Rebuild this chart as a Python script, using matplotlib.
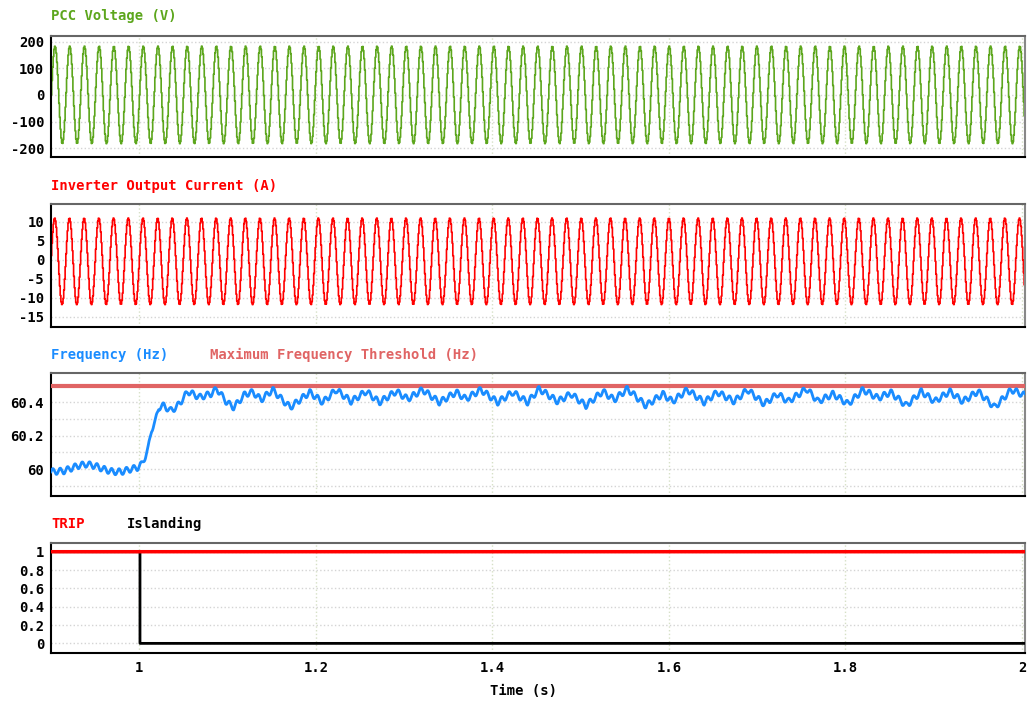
import numpy as np
import matplotlib
matplotlib.use('Agg')
import matplotlib.pyplot as plt

freq_t = [0.900, 0.915, 0.930, 0.940, 0.950, 0.960, 0.970, 0.980, 0.990, 0.998,
          1.003, 1.007, 1.010, 1.014, 1.018, 1.022, 1.028, 1.035, 1.042, 1.048,
          1.055, 1.068, 1.081, 1.088, 1.099, 1.107, 1.120, 1.129, 1.138, 1.151,
          1.162, 1.171, 1.193, 1.208, 1.223, 1.240, 1.257, 1.272, 1.291, 1.304,
          1.321, 1.340, 1.359, 1.370, 1.387, 1.406, 1.423, 1.440, 1.453, 1.474,
          1.489, 1.506, 1.525, 1.538, 1.553, 1.574, 1.593, 1.604, 1.621, 1.640,
          1.655, 1.674, 1.689, 1.708, 1.723, 1.735, 1.756, 1.769, 1.786, 1.803,
          1.820, 1.837, 1.851, 1.869, 1.886, 1.901, 1.918, 1.933, 1.950, 1.969,
          1.988, 2.004]
freq_hz = [59.985, 59.99, 60.02, 60.03, 60.02, 60.00, 59.985, 59.985, 60.00, 60.01,
           60.03, 60.08, 60.12, 60.24, 60.28, 60.37, 60.38, 60.35, 60.37, 60.41,
           60.465, 60.43, 60.45, 60.48, 60.40, 60.37, 60.45, 60.46, 60.415, 60.475,
           60.415, 60.37, 60.46, 60.40, 60.475, 60.405, 60.465, 60.40, 60.465, 60.42,
           60.475, 60.40, 60.46, 60.42, 60.475, 60.40, 60.46, 60.40, 60.48, 60.405,
           60.45, 60.38, 60.465, 60.415, 60.48, 60.38, 60.45, 60.405, 60.475, 60.40,
           60.46, 60.405, 60.475, 60.39, 60.45, 60.405, 60.48, 60.405, 60.45, 60.39,
           60.475, 60.425, 60.46, 60.38, 60.465, 60.405, 60.465, 60.405, 60.465, 60.37,
           60.475, 60.44]
ripple_hz = 0.018          # 120 Hz ripple seen on the frequency trace
f_threshold = 60.5
v_peak = 183.0
i_peak = 11.4
i_offset = -0.4
t_island = 1.0
trip_level = 1.0

green = '#5ca61c'
red = '#ff0000'
blue = '#1a8cff'
thr_red = '#e06464'

plt.rcParams['font.family'] = 'DejaVu Sans Mono'
plt.rcParams['font.weight'] = 'bold'
plt.rcParams['font.size'] = 10
plt.rcParams['axes.unicode_minus'] = False

# fine time base
tf = np.arange(0.9, 2.0035, 0.0001)
f_mean = np.interp(tf, freq_t, freq_hz)
f_meas = f_mean + ripple_hz * np.sin(2 * np.pi * 120 * tf)
phase = 2 * np.pi * np.concatenate([[0], np.cumsum(f_mean[:-1]) * 0.0001])

# sampled waveforms (staircase like the simulator output)
ts = tf[::8]
ph = phase[::8]
volt = v_peak * np.sin(ph)
curr = i_peak * np.sin(ph + 0.13) + i_offset

tripsig = np.full_like(ts, trip_level)
island = np.where(ts < t_island, 1.0, 0.0)

fig = plt.figure(figsize=(10.27, 7.02), dpi=100)
L, W = 51 / 1027, 974 / 1027
ax1 = fig.add_axes([L, 1 - 157 / 702, W, 121 / 702])
ax2 = fig.add_axes([L, 1 - 327 / 702, W, 123 / 702])
ax3 = fig.add_axes([L, 1 - 496 / 702, W, 123 / 702])
ax4 = fig.add_axes([L, 1 - 653 / 702, W, 110 / 702])

ax1.plot(ts, volt, color=green, lw=1.2, drawstyle='steps-post')
ax2.plot(ts, curr, color=red, lw=1.2, drawstyle='steps-post')
ax3.axhline(f_threshold, color=thr_red, lw=3, zorder=3)
ax3.plot(tf, f_meas, color=blue, lw=2, zorder=4)
ax4.plot(ts, island, color='black', lw=2, drawstyle='steps-post', zorder=3)
ax4.plot(ts, tripsig, color=red, lw=2.5, zorder=4)

ax1.set_ylim(-233, 221)
ax1.set_yticks([-200, -100, 0, 100, 200])
ax2.set_ylim(-17.7, 14.7)
ax2.set_yticks([-15, -10, -5, 0, 5, 10])
ax3.set_ylim(59.84, 60.575)
ax3.set_yticks([60, 60.2, 60.4])
ax3.set_yticklabels(['60', '60.2', '60.4'])
ax3.set_yticks([59.9, 60.1, 60.3], minor=True)
ax4.set_ylim(-0.105, 1.095)
ax4.set_yticks([0, 0.2, 0.4, 0.6, 0.8, 1])
ax4.set_yticklabels(['0', '0.2', '0.4', '0.6', '0.8', '1'])

for ax in (ax1, ax2, ax3, ax4):
    ax.set_xlim(0.9, 2.0034)
    ax.set_xticks([1, 1.2, 1.4, 1.6, 1.8, 2])
    ax.tick_params(length=0, pad=5, labelsize=10)
    ax.tick_params(which='minor', length=0)
    ax.grid(axis='y', which='both', color='#d4d4d4', ls=':', lw=1)
    ax.grid(axis='x', color='#d6e0c6', ls=':', lw=1)
    ax.spines['left'].set_color('black')
    ax.spines['bottom'].set_color('black')
    ax.spines['top'].set_color('#666666')
    ax.spines['right'].set_color('#888888')
    for s in ax.spines.values():
        s.set_linewidth(1.5)
    if ax is not ax4:
        ax.set_xticklabels([])

ax4.set_xticklabels(['1', '1.2', '1.4', '1.6', '1.8', '2'])
ax4.tick_params(axis='x', pad=6)

fig.text(523 / 1027, 1 - 691 / 702, 'Time (s)', ha='center', va='center', fontweight='bold')
fig.text(51 / 1027, 1 - 16 / 702, 'PCC Voltage (V)', color=green, va='center', fontweight='bold')
fig.text(51 / 1027, 1 - 186 / 702, 'Inverter Output Current (A)', color=red, va='center', fontweight='bold')
fig.text(51 / 1027, 1 - 355 / 702, 'Frequency (Hz)', color=blue, va='center', fontweight='bold')
fig.text(210 / 1027, 1 - 355 / 702, 'Maximum Frequency Threshold (Hz)', color=thr_red, va='center', fontweight='bold')
fig.text(51 / 1027, 1 - 524 / 702, 'TRIP', color=red, va='center', fontweight='bold')
fig.text(127 / 1027, 1 - 524 / 702, 'Islanding', color='black', va='center', fontweight='bold')

fig.savefig('out.png', dpi=100)
